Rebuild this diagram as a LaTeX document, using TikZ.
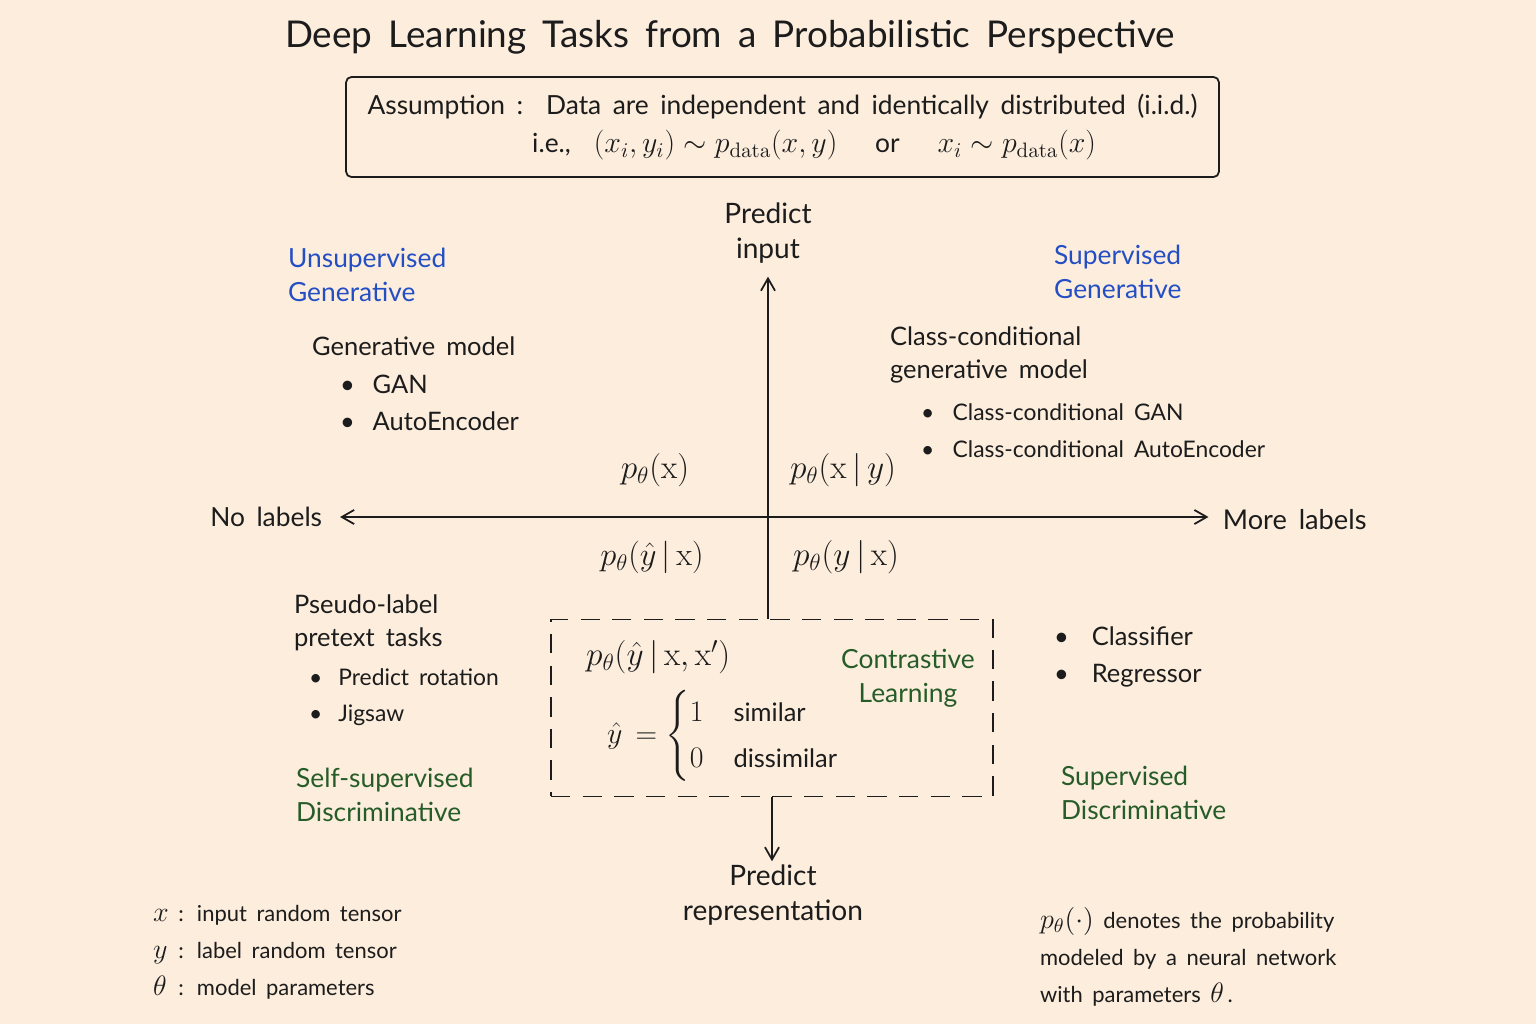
\RequirePackage{fix-cm}
\documentclass[tikz,border=0pt]{standalone}
\usepackage{amsmath}
\usepackage[no-math]{fontspec}
\setmainfont{Lato}[WordSpace=1.7]
\usetikzlibrary{arrows.meta}

\definecolor{bgpeach}{RGB}{252,237,221}
\definecolor{ink}{RGB}{28,28,28}
\definecolor{blulbl}{RGB}{35,78,196}
\definecolor{grnlbl}{RGB}{38,92,40}

\newcommand{\mfs}[1]{\fontsize{#1}{#1}\selectfont}

\tikzset{
  txt/.style={text=ink, font=\fontsize{14.5}{19}\selectfont, align=left, inner sep=1pt},
  quad/.style={txt, text=blulbl, font=\fontsize{15}{19.5}\selectfont},
  quadg/.style={quad, text=grnlbl},
  bullist/.style={txt, font=\fontsize{14.5}{21}\selectfont},
  prob/.style={text=ink, font=\fontsize{19}{22}\selectfont, inner sep=1pt},
  axislbl/.style={txt, font=\fontsize{16}{19.5}\selectfont, align=center, inner sep=2pt},
  tip/.tip={Straight Barb[length=7pt,width=8pt]},
  axis/.style={draw=ink, line width=1pt, -tip},
  note/.style={txt, font=\fontsize{12.5}{21}\selectfont}
}

\begin{document}
\begin{tikzpicture}[x=0.02cm,y=-0.02cm]
\fill[bgpeach] (0,0) rectangle (1536,1024);
\useasboundingbox (0,0) rectangle (1536,1024);

\node[text=ink, font=\fontsize{21}{24}\selectfont] (title) at (730,37) {Deep Learning Tasks from a Probabilistic Perspective};

\node[draw=ink, line width=1pt, rounded corners=3pt, minimum width=17.46cm, minimum height=2cm,
  text=ink, align=center, font=\fontsize{15}{22}\selectfont] (assume) at (782.5,127)
  {Assumption :\ \ Data are independent and identically distributed (i.i.d.)\\
   \hspace{2.4em}i.e.,\ \ {\mfs{17}$(x_i,y_i)\sim p_{\mathrm{data}}(x,y)$}\quad\ or\quad\ {\mfs{17}$x_i\sim p_{\mathrm{data}}(x)$}};

\node[axislbl] (predin) at (768,233) {Predict\\input};
\node[axislbl] (predrep) at (773,895) {Predict\\representation};
\node[axislbl, anchor=east, font=\fontsize{15}{19}\selectfont] (nolab) at (326,517) {No labels};
\node[axislbl, anchor=west, font=\fontsize{15.5}{19}\selectfont] (morelab) at (1219,520) {More labels};

\node[draw=ink, line width=1pt, dash pattern=on 11pt off 7pt, minimum width=8.84cm, minimum height=3.54cm] (cbox) at (772,708) {};

\draw[axis] (cbox.north -| predin.south) -- ++(0,-342);
\draw[axis, tip-tip, shorten <=8pt, shorten >=6pt] (nolab.east) -- (nolab.east -| morelab.west);
\draw[axis] (cbox.south) -- (cbox.south |- predrep.north);

\node[quad, anchor=west] (usgen) at (286,275) {Unsupervised\\Generative};
\node[quad, anchor=west] (sgen) at (1052,272) {Supervised\\Generative};
\node[quadg, anchor=west] (ssdisc) at (294,795) {Self-supervised\\Discriminative};
\node[quadg, anchor=west] (sdisc) at (1059,793) {Supervised\\Discriminative};

\node[txt, anchor=west] (genmod) at (310,346) {Generative model};
\node[bullist, anchor=west] (genlist) at (338,403) {\textbullet\hspace{0.7em}GAN\\\textbullet\hspace{0.7em}AutoEncoder};

\node[txt, anchor=west] (ccgen) at (888,355) {Class-conditional\\generative model};
\node[bullist, anchor=west, font=\fontsize{13}{21}\selectfont] (cclist) at (919,431) {\textbullet\hspace{0.8em}Class-conditional GAN\\\textbullet\hspace{0.8em}Class-conditional AutoEncoder};

\node[txt, anchor=west] (pseudo) at (292,623) {Pseudo-label\\pretext tasks};
\node[bullist, anchor=west, font=\fontsize{13}{20.5}\selectfont] (pslist) at (307,697) {\textbullet\hspace{0.7em}Predict rotation\\\textbullet\hspace{0.7em}Jigsaw};

\node[bullist, anchor=west] (sdlist) at (1052,657) {\textbullet\hspace{0.9em}Classifier\\\textbullet\hspace{0.9em}Regressor};

\node[prob] (px) at (655,470) {$p_\theta(\mathrm{x})$};
\node[prob] (pxy) at (843,470) {$p_\theta(\mathrm{x}\,|\,y)$};
\node[prob, font=\fontsize{18.5}{22}\selectfont] (pyhat) at (652,557) {$p_\theta(\hat{y}\,|\,\mathrm{x})$};
\node[prob] (pyx) at (846,557) {$p_\theta(y\,|\,\mathrm{x})$};

\node[prob, anchor=west] (pcon) at (584,657) {$p_\theta(\hat{y}\,|\,\mathrm{x},\mathrm{x}')$};
\node[prob, anchor=west, font=\fontsize{17}{20}\selectfont] (yhat) at (605,736)
  {$\hat{y}\,=\begin{cases}1\quad\text{\fontsize{14.5}{17}\selectfont similar}\\[2pt]0\quad\text{\fontsize{14.5}{17}\selectfont dissimilar}\end{cases}$};
\node[quadg, align=center] (contr) at (908,678) {Contrastive\\Learning};

\node[note, anchor=west] (legend) at (151,951) {%
  \begin{tabular}{@{}l@{\ :\ \,}l@{}}
  {\mfs{16}$x$} & input random tensor\\
  {\mfs{16}$y$} & label random tensor\\
  {\mfs{16}$\theta$} & model parameters
  \end{tabular}};
\node[note, anchor=west] (pnote) at (1038,957) {{\mfs{16}$p_\theta(\cdot)$} denotes the probability\\modeled by a neural network\\with parameters\ {\mfs{16}$\theta$}\,.};
\end{tikzpicture}
\end{document}
